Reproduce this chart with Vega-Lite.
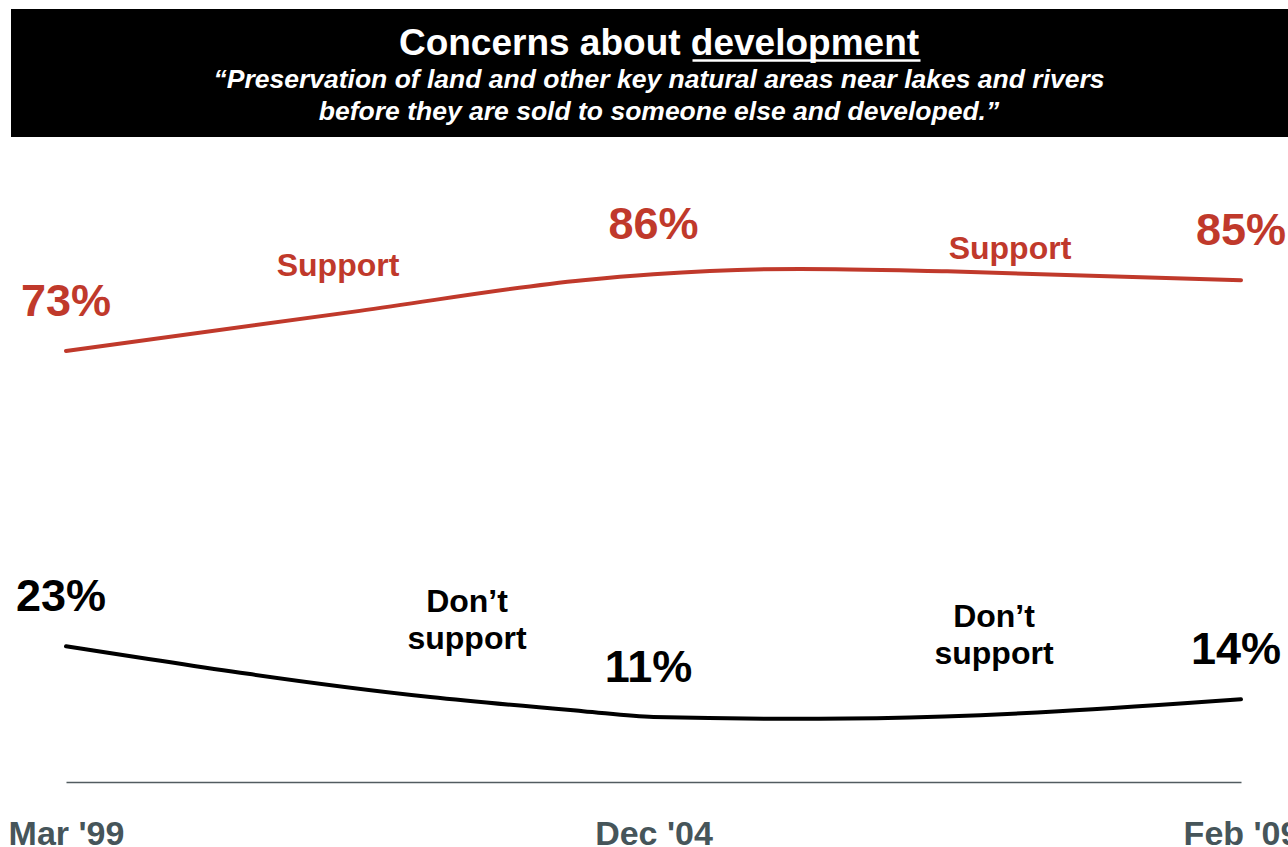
{
  "$schema": "https://vega.github.io/schema/vega-lite/v6.json",
  "padding": {"left": 8, "top": 9, "right": 0, "bottom": 0},
  "background": "#ffffff",
  "spacing": 0,
  "config": {"view": {"stroke": null}, "font": "Liberation Sans"},
  "vconcat": [
    {
      "width": 1278,
      "height": 128,
      "view": {"fill": "#000000", "stroke": null},
      "title": {
        "text": "Concerns about development",
        "subtitle": ["“Preservation of land and other key natural areas near lakes and rivers", "before they are sold to someone else and developed.”"],
        "orient": "top",
        "anchor": "middle",
        "frame": "group",
        "offset": -117.5,
        "dx": 9,
        "font": "Liberation Sans",
        "fontSize": 37,
        "fontWeight": "bold",
        "color": "#ffffff",
        "subtitleFont": "Liberation Sans",
        "subtitleFontSize": 26.5,
        "subtitleFontStyle": "italic",
        "subtitleFontWeight": "bold",
        "subtitleColor": "#ffffff",
        "subtitleLineHeight": 32,
        "subtitlePadding": 4
      },
      "data": {"values": [{"part": "banner"}]},
      "mark": {"type": "text", "color": "#ffffff"},
      "encoding": {
        "text": {"value": " "},
        "y": {
          "field": "part",
          "type": "nominal",
          "scale": {"paddingInner": 0, "paddingOuter": 0},
          "axis": {
            "orient": "left",
            "offset": -909,
            "tickSize": 228,
            "tickWidth": 2.5,
            "tickColor": "#ffffff",
            "tickOffset": -13,
            "labels": false,
            "domain": false,
            "grid": false,
            "title": null
          }
        }
      }
    },
    {
      "width": 1278,
      "height": 645,
      "data": {"values": [
        {"series": "Support", "pos": 0, "value": 73, "label": "73%"},
        {"series": "Support", "pos": 0.25, "value": 79.8},
        {"series": "Support", "pos": 0.44, "value": 85},
        {"series": "Support", "pos": 0.5, "value": 86, "label": "86%"},
        {"series": "Support", "pos": 0.625, "value": 86.9},
        {"series": "Support", "pos": 0.75, "value": 86.5},
        {"series": "Support", "pos": 1, "value": 85, "label": "85%"},
        {"series": "Don’t support", "pos": 0, "value": 23, "label": "23%"},
        {"series": "Don’t support", "pos": 0.31, "value": 14.4},
        {"series": "Don’t support", "pos": 0.44, "value": 12},
        {"series": "Don’t support", "pos": 0.5, "value": 11, "label": "11%"},
        {"series": "Don’t support", "pos": 0.625, "value": 10.7},
        {"series": "Don’t support", "pos": 0.69, "value": 10.8},
        {"series": "Don’t support", "pos": 1, "value": 14, "label": "14%"}
      ]},
      "layer": [
        {
          "mark": {"type": "line", "strokeWidth": 4, "interpolate": "monotone", "strokeCap": "round"},
          "encoding": {
            "x": {
              "field": "pos",
              "type": "quantitative",
              "scale": {"domain": [-0.046809, 1.040851], "nice": false, "zero": false},
              "axis": {
                "values": [0, 0.5, 1],
                "labelExpr": "datum.value < 0.25 ? \"Mar '99\" : datum.value < 0.75 ? \"Dec '04\" : \"Feb '09\"",
                "domain": false,
                "ticks": false,
                "tickSize": 0,
                "grid": false,
                "labelPadding": 35,
                "labelFont": "Liberation Sans",
                "labelFontSize": 34,
                "labelFontWeight": "bold",
                "labelColor": "#46555a",
                "labelFlush": false,
                "labelOverlap": false,
                "labelBound": false,
                "title": null
              }
            },
            "y": {
              "field": "value",
              "type": "quantitative",
              "scale": {"domain": [0, 109.25], "nice": false},
              "axis": {
                "values": [0],
                "orient": "left",
                "offset": -1230,
                "tickSize": 1175,
                "tickWidth": 1.5,
                "tickColor": "#525c60",
                "labels": false,
                "domain": false,
                "grid": false,
                "title": null
              }
            },
            "color": {
              "field": "series",
              "type": "nominal",
              "scale": {"domain": ["Support", "Don’t support"], "range": ["#c0392b", "#000000"]},
              "legend": null
            }
          }
        },
        {
          "transform": [{"filter": "isValid(datum.label) && datum.series == 'Support'"}],
          "mark": {"type": "text", "fontSize": 45, "fontWeight": "bold", "baseline": "alphabetic", "align": "center", "dy": -35, "dx": 0},
          "encoding": {
            "x": {"field": "pos", "type": "quantitative"},
            "y": {"field": "value", "type": "quantitative"},
            "text": {"field": "label"},
            "color": {"field": "series", "type": "nominal"}
          }
        },
        {
          "transform": [{"filter": "isValid(datum.label) && datum.series != 'Support'"}],
          "mark": {"type": "text", "fontSize": 45, "fontWeight": "bold", "baseline": "alphabetic", "align": "center", "dy": -35, "dx": -5},
          "encoding": {
            "x": {"field": "pos", "type": "quantitative"},
            "y": {"field": "value", "type": "quantitative"},
            "text": {"field": "label"},
            "color": {"field": "series", "type": "nominal"}
          }
        },
        {
          "data": {"values": [
            {"series": "Support", "pos": 0.2315, "value": 87.45, "note": "Support"},
            {"series": "Support", "pos": 0.8034, "value": 90.33, "note": "Support"},
            {"series": "Don’t support", "pos": 0.3413, "value": 30.49, "note": "Don’t\nsupport"},
            {"series": "Don’t support", "pos": 0.7898, "value": 27.95, "note": "Don’t\nsupport"}
          ]},
          "mark": {"type": "text", "fontSize": 32, "fontWeight": "bold", "baseline": "middle", "align": "center", "lineBreak": "\n", "lineHeight": 37},
          "encoding": {
            "x": {"field": "pos", "type": "quantitative"},
            "y": {"field": "value", "type": "quantitative"},
            "text": {"field": "note"},
            "color": {"field": "series", "type": "nominal"}
          }
        }
      ]
    }
  ]
}
